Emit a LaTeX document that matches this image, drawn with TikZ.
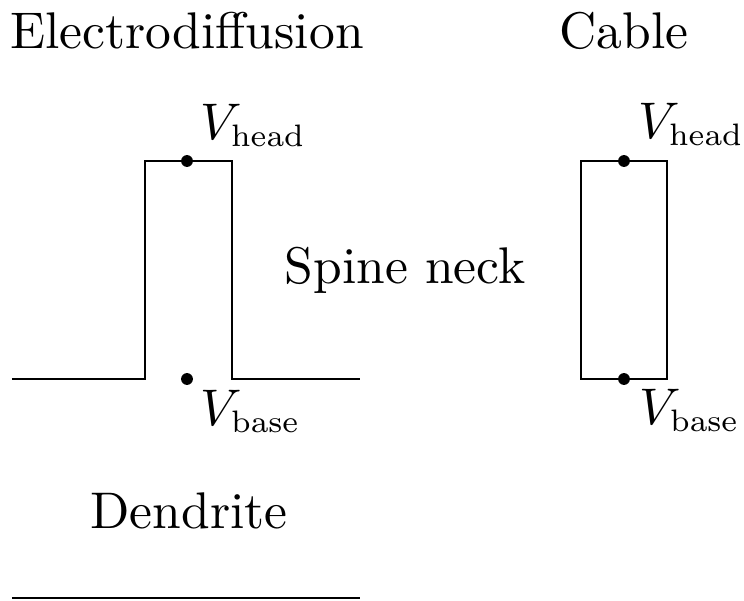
\documentclass[tikz,border=0pt]{standalone}
\usepackage{graphicx}
\newcommand{\smsub}[1]{\scalebox{0.86}{$\scriptstyle\mathrm{#1}$}}
\begin{document}
\begin{tikzpicture}[x=0.194pt,y=-0.194pt,
  lbl/.style={inner sep=0pt,outer sep=0pt},
  pt/.style={circle,fill=black,inner sep=0pt,minimum size=2.3pt},
  wire/.style={line width=0.45pt}]
\useasboundingbox (0,0) rectangle (744,601);
% titles
\node[lbl,anchor=base] (tED) at (187,48) {Electrodiffusion};
\node[lbl,anchor=base] (tCB) at (624,48) {Cable};
\node[lbl,anchor=base] (tSN) at (405,283) {Spine neck};
\node[lbl,anchor=base] (tDD) at (189,528) {Dendrite};
% electrodiffusion shape
\coordinate (a1) at (12,379);
\coordinate (a2) at (145,379);
\coordinate (a3) at (145,161);
\coordinate (a4) at (232,161);
\coordinate (a5) at (232,379);
\coordinate (a6) at (360,379);
\draw[wire] (a1) -- (a2) -- (a3) -- (a4) -- (a5) -- (a6);
\node[pt] (hL) at (187,161) {};
\node[pt] (bL) at (187,379) {};
\node[lbl,anchor=base west] (vhL) at (201,139) {$V_{\smsub{head}}$};
\node[lbl,anchor=base west] (vbL) at (201,425) {$V_{\smsub{base}}$};
% dendrite line
\coordinate (d1) at (12,598);
\coordinate (d2) at (360,598);
\draw[wire] (d1) -- (d2);
% cable rectangle
\coordinate (r1) at (581,161);
\coordinate (r2) at (667,379);
\draw[wire] (r1) rectangle (r2);
\node[pt] (hR) at (624,161) {};
\node[pt] (bR) at (624,379) {};
\node[lbl,anchor=base west] (vhR) at (639,138) {$V_{\smsub{head}}$};
\node[lbl,anchor=base west] (vbR) at (640,424) {$V_{\smsub{base}}$};
\end{tikzpicture}
\end{document}
